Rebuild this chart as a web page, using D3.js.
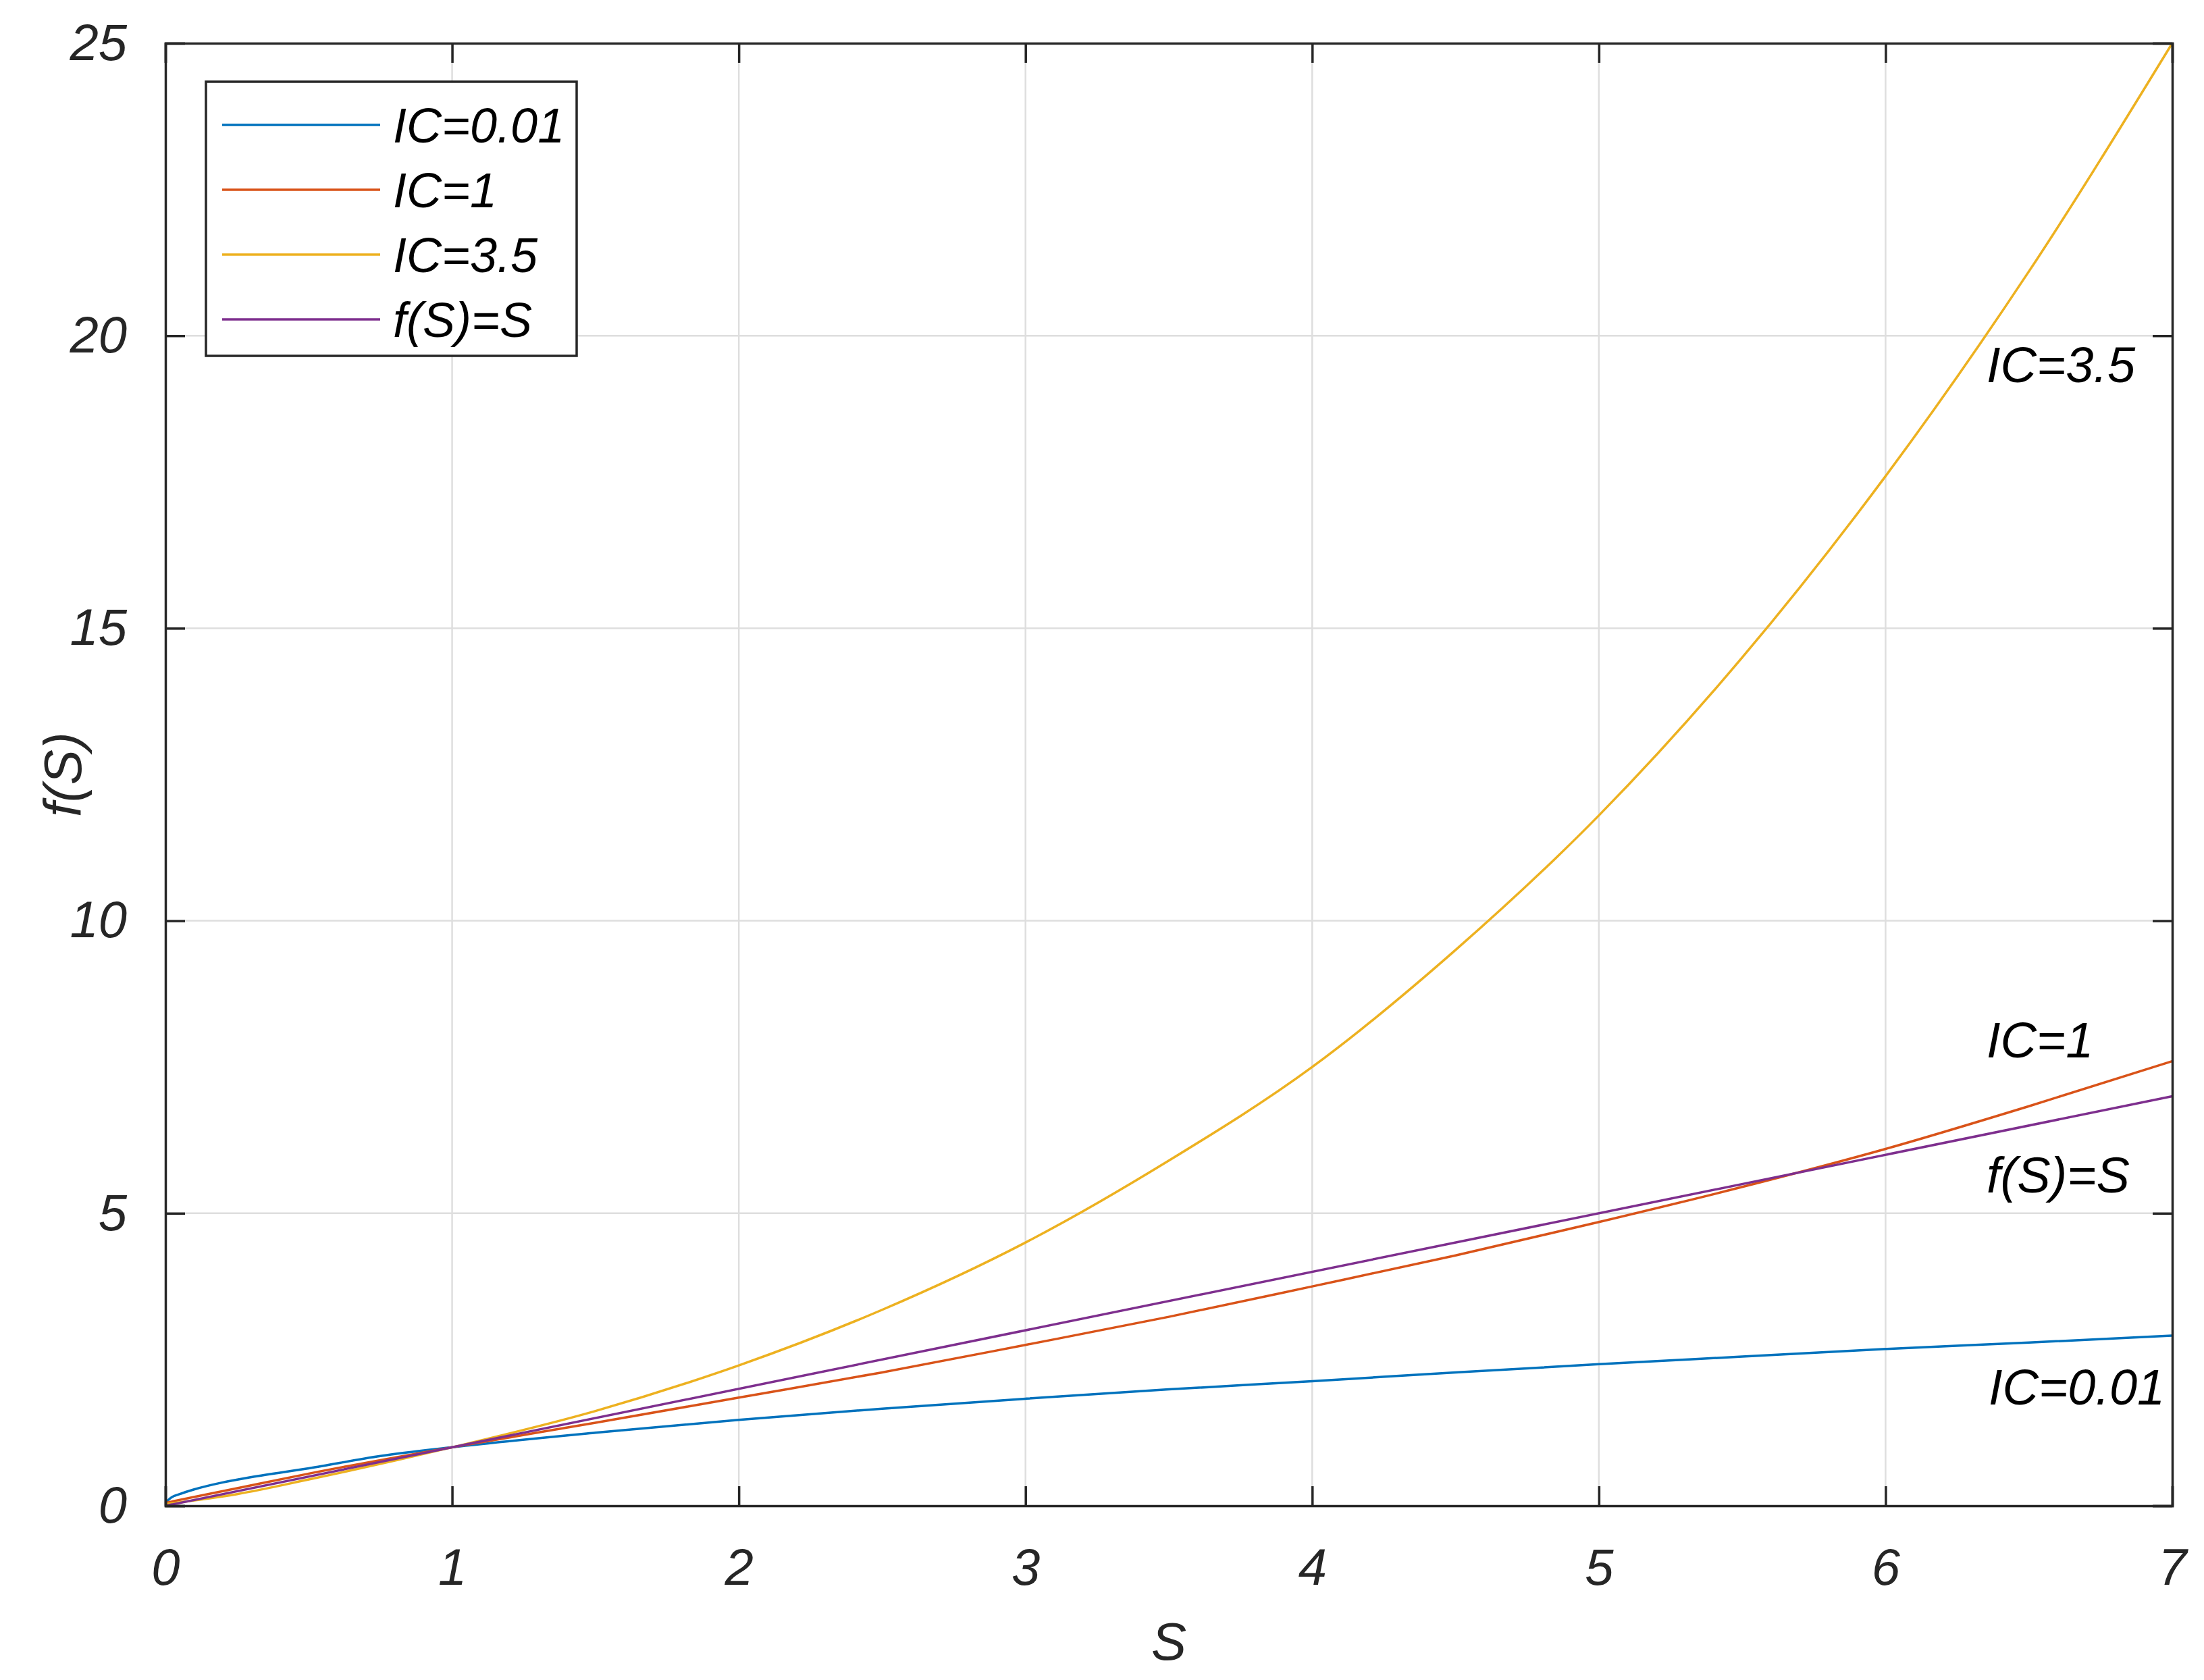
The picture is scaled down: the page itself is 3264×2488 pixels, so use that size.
<!DOCTYPE html>
<html>
<head>
<meta charset="utf-8">
<script src="https://cdn.jsdelivr.net/npm/d3@7"></script>
<style>
    body { margin: 0; background: #fff; }
    text { font-family: "Liberation Sans", Arial, sans-serif; font-style: italic; }
</style>
</head>
<body>
<svg id="chart" width="3264" height="2488"></svg>
<script>
// data
const sLow = [0, 0.02, 0.05, 0.1, 0.2, 0.3, 0.5, 0.75, 1, 1.5, 2, 2.5, 3, 3.5, 4, 4.5, 5, 5.5, 6, 6.5, 7];
const icLow = [0.05, 0.14, 0.2, 0.28, 0.4, 0.49, 0.64, 0.85, 1, 1.25, 1.47, 1.66, 1.83, 1.99, 2.13, 2.28, 2.42, 2.55, 2.68, 2.79, 2.91];
const sMid = [0, 0.25, 0.5, 1, 1.5, 2, 2.5, 3, 3.5, 4, 4.5, 5, 5.5, 6, 6.5, 7];
const icMid = [0.05, 0.3, 0.55, 1, 1.42, 1.85, 2.28, 2.75, 3.23, 3.75, 4.28, 4.85, 5.45, 6.1, 6.83, 7.6];
const sHigh = [0, 0.25, 0.5, 1, 1.5, 2, 2.5, 3, 3.5, 4, 4.5, 5, 5.5, 6, 6.5, 7];
const icHigh = [0.03, 0.2, 0.45, 1, 1.62, 2.4, 3.35, 4.5, 5.9, 7.5, 9.5, 11.8, 14.5, 17.6, 21.1, 25];
const sLin = [0, 7];
const fLin = [0, 7];

const xTicks = [0, 1, 2, 3, 4, 5, 6, 7];
const yTicks = [0, 5, 10, 15, 20, 25];

const series = [
    { name: "IC=0.01", xs: sLow, ys: icLow, color: "#0072BD" },
    { name: "IC=1", xs: sMid, ys: icMid, color: "#D95319" },
    { name: "IC=3.5", xs: sHigh, ys: icHigh, color: "#EDB120" },
    { name: "f(S)=S", xs: sLin, ys: fLin, color: "#7E2F8E" }
];
const endLabels = [
    { text: "IC=3.5", x: 2942, y: 566 },
    { text: "IC=1", x: 2942, y: 1566 },
    { text: "f(S)=S", x: 2942, y: 1766 },
    { text: "IC=0.01", x: 2945, y: 2080 }
];

const L = 245, T = 64, R = 3217, B = 2230;
const svg = d3.select("#chart");
const x = d3.scaleLinear().domain([0, 7]).range([L, R]);
const y = d3.scaleLinear().domain([0, 25]).range([B, T]);

// grid
svg.append("g").selectAll("line").data(xTicks.slice(1, -1)).join("line")
    .attr("x1", d => x(d)).attr("x2", d => x(d)).attr("y1", T).attr("y2", B)
    .attr("stroke", "#dedede").attr("stroke-width", 2.5);
svg.append("g").selectAll("line").data(yTicks.slice(1, -1)).join("line")
    .attr("y1", d => y(d)).attr("y2", d => y(d)).attr("x1", L).attr("x2", R)
    .attr("stroke", "#dedede").attr("stroke-width", 2.5);

// curves
const line = d3.line().x(d => x(d[0])).y(d => y(d[1])).curve(d3.curveMonotoneX);
series.forEach(s => {
    svg.append("path")
        .attr("d", line(s.xs.map((v, i) => [v, s.ys[i]])))
        .attr("fill", "none").attr("stroke", s.color).attr("stroke-width", 3.5);
});

// axes (ticks inward, box)
const tl = 29;
const axB = svg.append("g").attr("transform", `translate(0,${B})`)
    .call(d3.axisBottom(x).tickValues(xTicks).tickSize(-tl).tickPadding(tl + 50).tickFormat(d3.format("d")));
const axL = svg.append("g").attr("transform", `translate(${L},0)`)
    .call(d3.axisLeft(y).tickValues(yTicks).tickSize(-tl).tickPadding(tl + 28).tickFormat(d3.format("d")));
svg.append("g").attr("transform", `translate(0,${T})`)
    .call(d3.axisTop(x).tickValues(xTicks).tickSize(-tl).tickFormat(""));
svg.append("g").attr("transform", `translate(${R},0)`)
    .call(d3.axisRight(y).tickValues(yTicks).tickSize(-tl).tickFormat(""));
svg.selectAll(".domain, .tick line").attr("stroke", "#262626").attr("stroke-width", 3.5);
svg.selectAll(".tick text").attr("font-size", 76).attr("fill", "#262626")
    .style("font-family", "'Liberation Sans', Arial, sans-serif").style("font-style", "italic");
axB.selectAll(".tick text").attr("dy", "0.5em");

// axis titles
svg.append("text").attr("x", (L + R) / 2).attr("y", 2458).attr("text-anchor", "middle")
    .attr("font-size", 78).attr("fill", "#262626").text("S");
svg.append("text").attr("transform", `translate(120,${(T + B) / 2}) rotate(-90)`)
    .attr("text-anchor", "middle").attr("font-size", 78).attr("fill", "#262626").text("f(S)");

// legend
const lg = svg.append("g");
lg.append("rect").attr("x", 305).attr("y", 121).attr("width", 549).attr("height", 406)
    .attr("fill", "#fff").attr("stroke", "#262626").attr("stroke-width", 3.5);
series.forEach((s, i) => {
    const yy = 185 + i * 96;
    lg.append("line").attr("x1", 329).attr("x2", 563).attr("y1", yy).attr("y2", yy)
        .attr("stroke", s.color).attr("stroke-width", 3.5);
    lg.append("text").attr("x", 582).attr("y", yy + 26).attr("font-size", 72).attr("fill", "#000").text(s.name);
});

// end-of-curve labels
svg.append("g").selectAll("text").data(endLabels).join("text")
    .attr("x", d => d.x).attr("y", d => d.y).attr("font-size", 74).attr("fill", "#000").text(d => d.text);
</script>
</body>
</html>
